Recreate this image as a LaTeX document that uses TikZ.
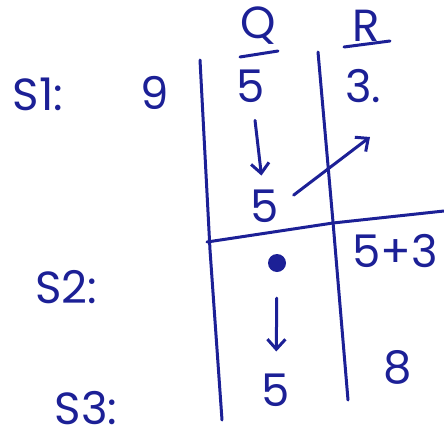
\documentclass[tikz,border=0pt]{standalone}
\usepackage{fontspec}
\setmainfont{Poppins}
\usetikzlibrary{arrows.meta}
\definecolor{ink}{RGB}{28,32,150}
\tikzset{
  hand/.style={text=ink, inner sep=0pt, font=\fontsize{45}{47}\selectfont},
  rule/.style={draw=ink, line width=3pt, line cap=round},
  arr/.style={rule, -{Straight Barb[length=10pt,width=18pt]}}
}
\begin{document}
\begin{tikzpicture}[x=1pt,y=-1pt]
  \useasboundingbox (0,0) rectangle (444,439);
  % table lines
  \draw[rule] (200,60) -- (210,250) -- (222,420);
  \draw[rule] (318,52) -- (333,222) -- (348,400);
  \draw[rule] (207,242) -- (333,223) -- (444,211);
  \draw[rule] (240,57) -- (278,51);
  \draw[rule] (344,47) -- (390,41);
  % row labels
  \node[hand] (s1) at (38,94) {S1:};
  \node[hand] (s2) at (66,287) {S2:};
  \node[hand] (s3) at (86,408) {S3:};
  \node[hand] (nine) at (155,93) {9};
  % column Q
  \node[hand] (q) at (258,26) {Q};
  \node[hand] (qa) at (251,86) {5};
  \node[hand] (qb) at (265,206) {5};
  \node[hand, circle, fill=ink, minimum size=18pt, inner sep=0pt] (blob) at (277,263) {};
  \node[hand] (qc) at (276,390) {5};
  % column R
  \node[hand] (r) at (366,26) {R};
  \node[hand] (ra) at (363,86) {3.};
  \node[hand] (rb) at (395,251) {5+3};
  \node[hand] (rc) at (398,367) {8};
  \coordinate (rtip) at (370,137);
  % arrows
  \draw[arr, shorten <=18pt, shorten >=14pt] (qa) -- (qb);
  \draw[arr, shorten <=18pt] (qb.east) -- (rtip);
  \draw[arr, shorten <=26pt, shorten >=22pt] (blob) -- (qc);
\end{tikzpicture}
\end{document}
